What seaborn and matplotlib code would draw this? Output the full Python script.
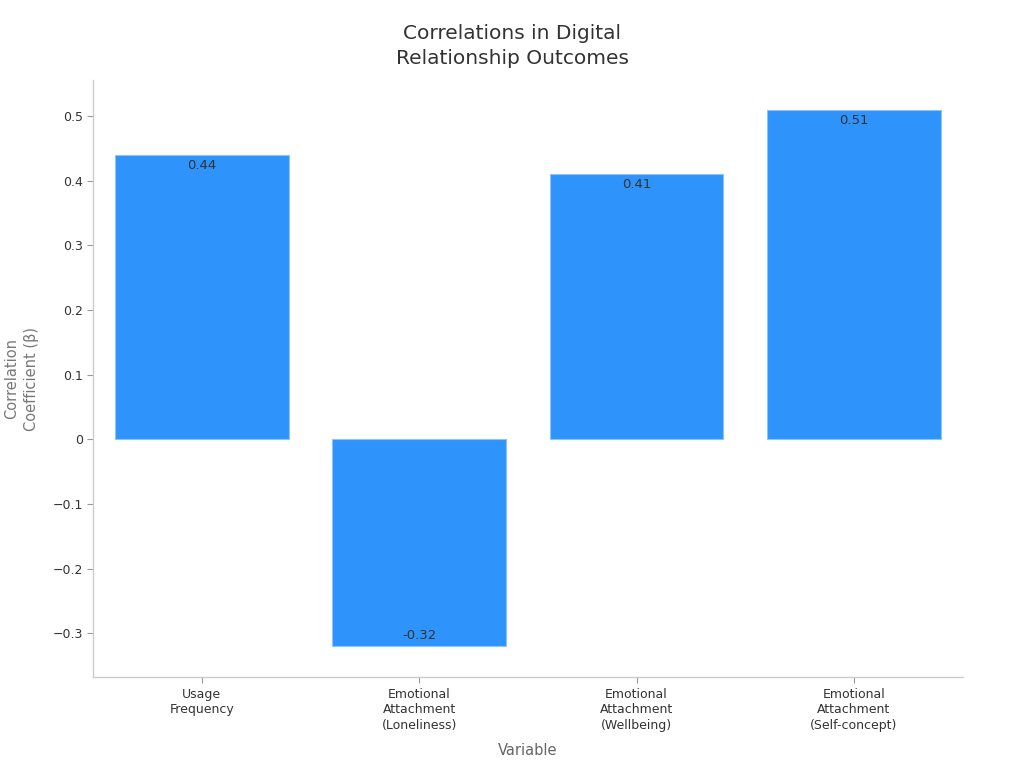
import matplotlib
matplotlib.use("Agg")
import matplotlib.pyplot as plt
import seaborn as sns
import pandas as pd
from matplotlib.ticker import FuncFormatter

categories = ["Usage\nFrequency", "Emotional\nAttachment\n(Loneliness)",
              "Emotional\nAttachment\n(Wellbeing)", "Emotional\nAttachment\n(Self-concept)"]
values = [0.44, -0.32, 0.41, 0.51]

sns.set_theme(style="white")
plt.rcParams['font.family'] = ['DejaVu Sans']

df = pd.DataFrame({"Variable": categories, "Value": values})

fig, ax = plt.subplots(figsize=(10.24, 7.68), dpi=100)
fig.subplots_adjust(left=0.091, right=0.94, top=0.896, bottom=0.118)

sns.barplot(data=df, x="Variable", y="Value", color="#2E93FA", saturation=1,
            width=0.8, edgecolor="#8cc4fb", linewidth=0.8, ax=ax)

for i, v in enumerate(values):
    off = -7.5 if v > 0 else 8
    ax.annotate(f"{v:.2f}", (i, v), xytext=(0, off), textcoords="offset points",
                ha="center", va="center", fontsize=9.5, color="#333333")

ax.set_xlim(-0.5, 3.5)
ax.set_ylim(-0.368, 0.556)
ax.set_yticks([-0.3, -0.2, -0.1, 0, 0.1, 0.2, 0.3, 0.4, 0.5])
ax.yaxis.set_major_formatter(FuncFormatter(lambda v, p: f"{v:g}".replace("-", "\u2212")))

fig.text(0.5, 0.911, "Correlations in Digital\nRelationship Outcomes", fontsize=14.5,
         color="#333333", ha="center", va="bottom", linespacing=1.45)
ax.set_xlabel("Variable", fontsize=10.5, color="#666666", labelpad=8)
ax.set_ylabel("Correlation\nCoefficient (\u03b2)", fontsize=10.5, color="#777777", labelpad=10,
              linespacing=1.4)

ax.tick_params(axis="both", labelsize=9, colors="#333333", length=4, width=0.8, left=True, bottom=True)
ax.tick_params(axis="both", color="#999999")
for lab in ax.get_xticklabels():
    lab.set_linespacing(1.25)

sns.despine(ax=ax)
for s in ["left", "bottom"]:
    ax.spines[s].set_color("#cccccc")
    ax.spines[s].set_linewidth(1)

fig.savefig("out.png", dpi=100)
